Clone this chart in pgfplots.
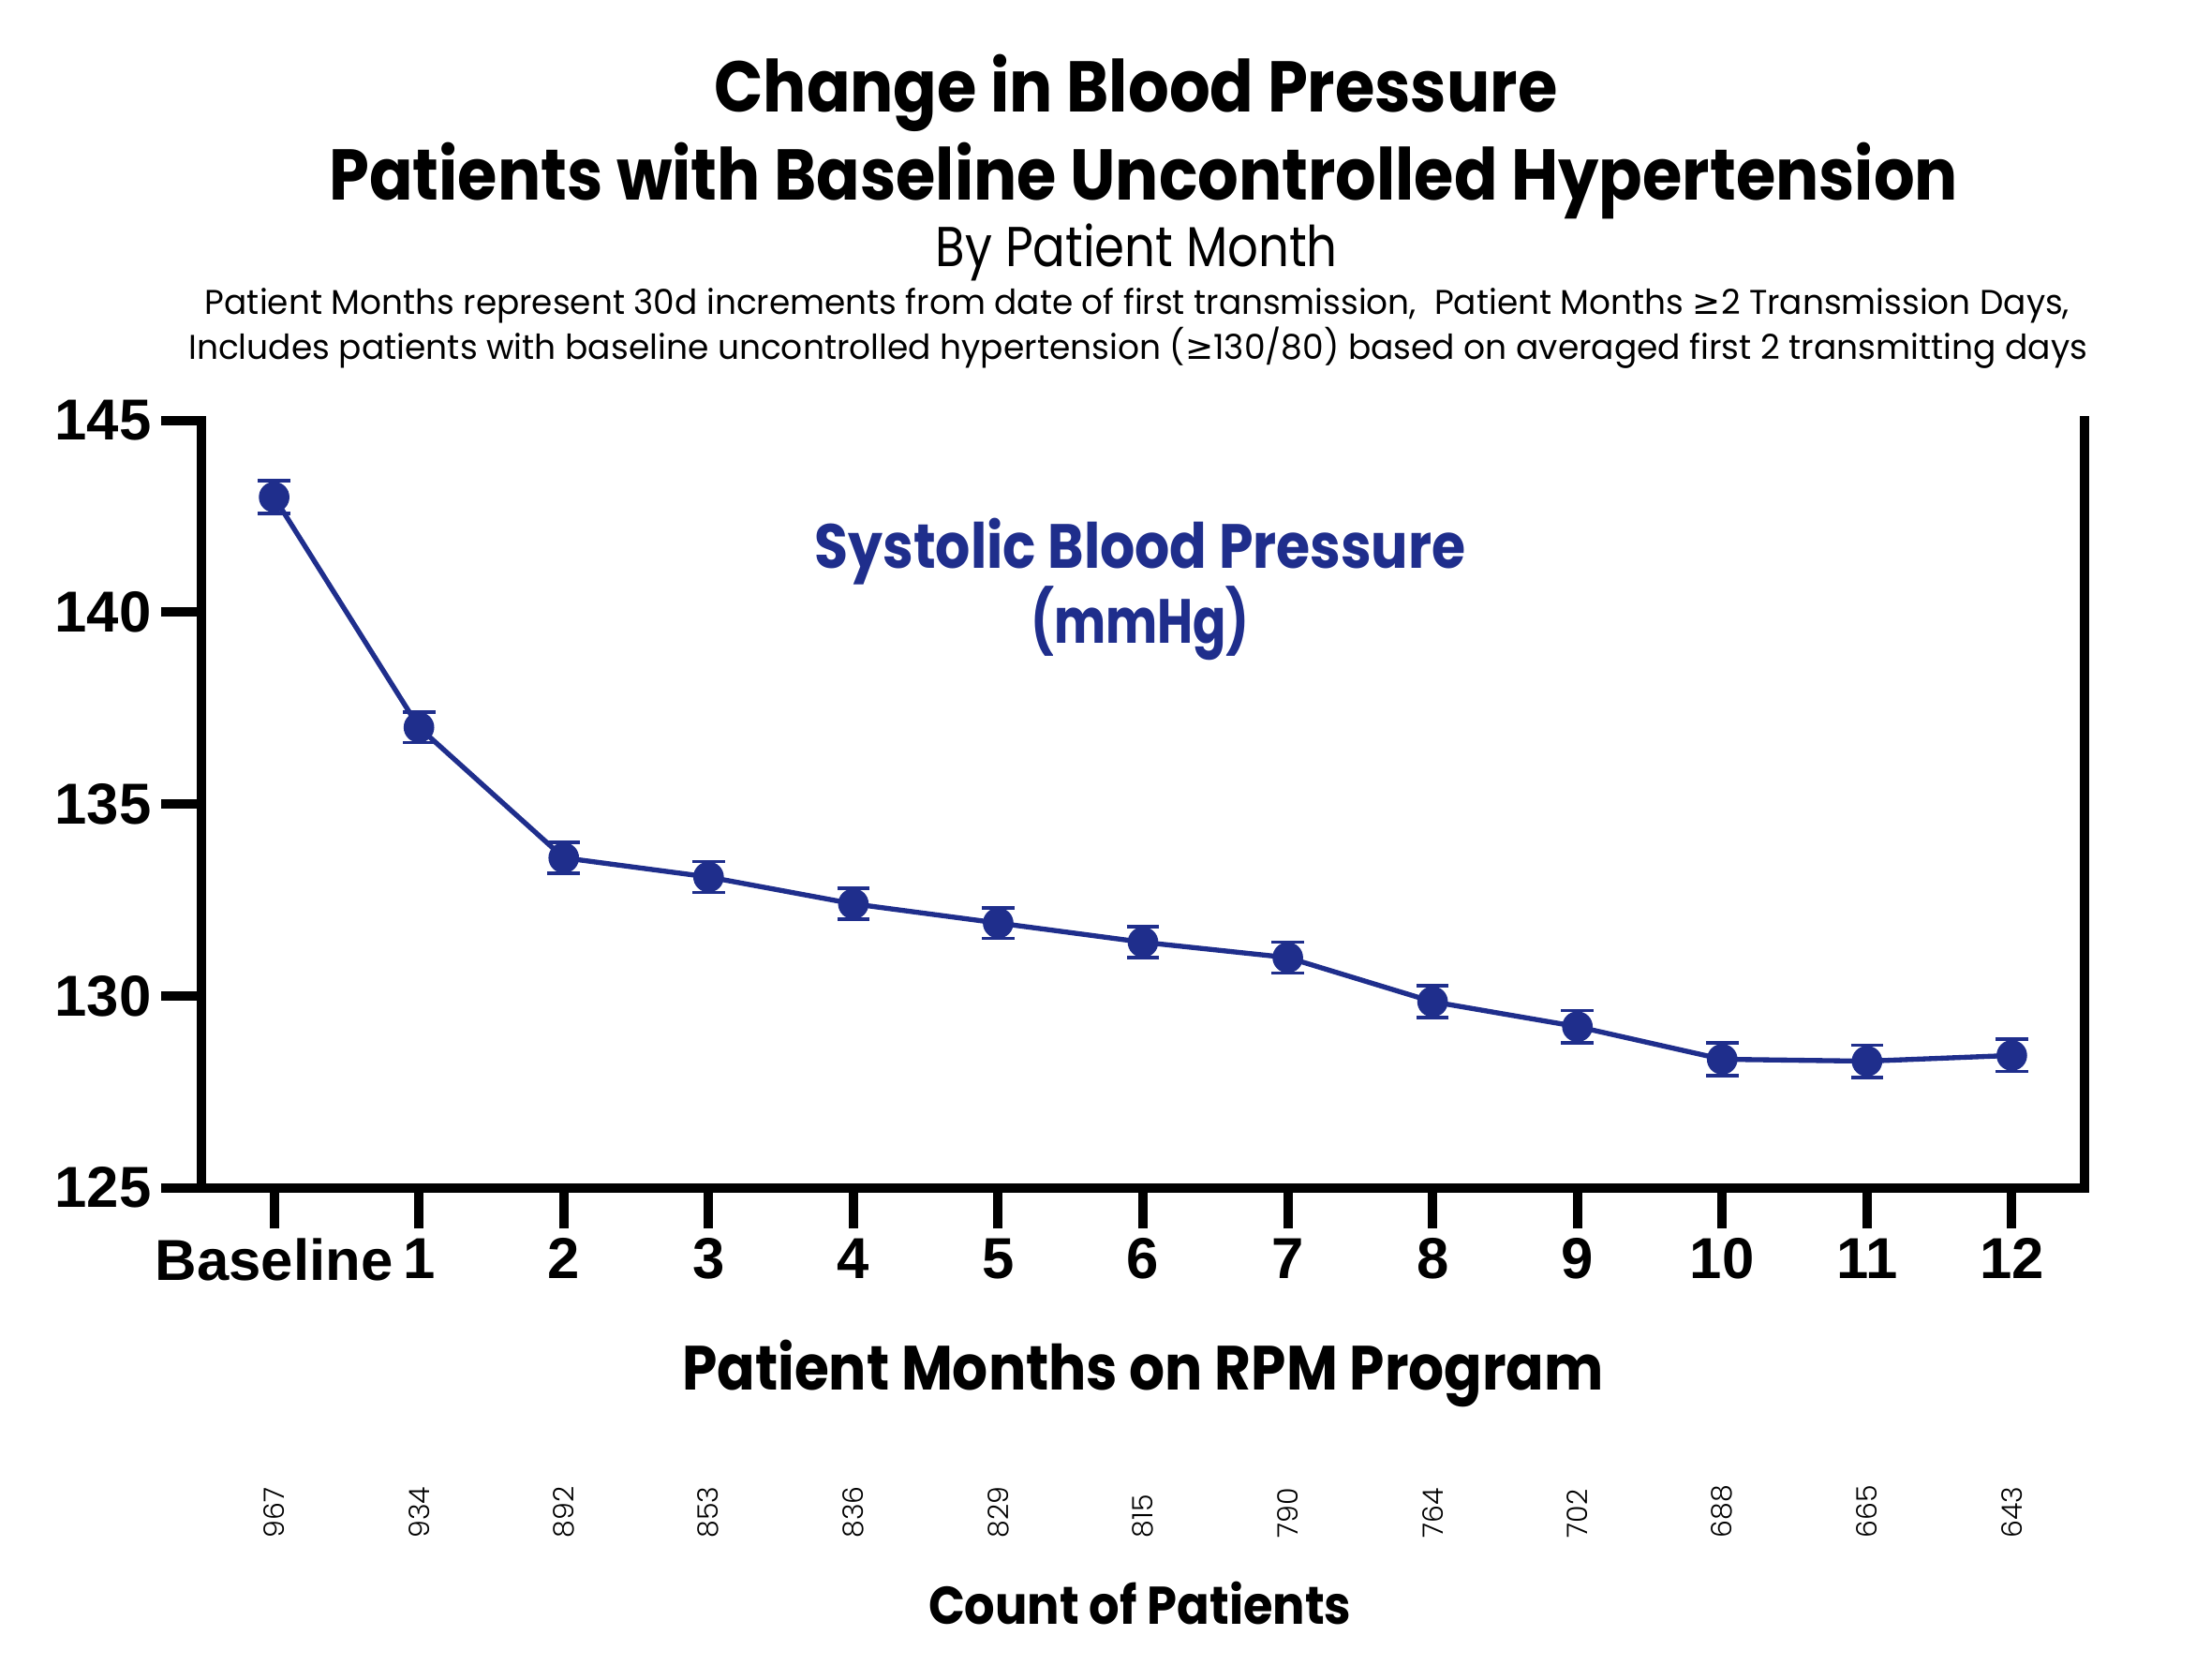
\documentclass[border=0pt]{standalone}
\usepackage{fontspec}
\usepackage{graphicx}
\usepackage{pgfplots}
\pgfplotsset{compat=1.18}

\setmainfont{Poppins}
\newfontfamily\popbold{Poppins Bold}
\newfontfamily\poplight{Poppins Light}
\newfontfamily\popreg{Poppins}
\newfontfamily\symfont{DejaVu Sans}
\newfontfamily\arialbold{Liberation Sans Bold}
\definecolor{bpnavy}{RGB}{31,46,140}

% mean systolic pressure by patient month, with error half-widths
\pgfplotstableread{
month  sbp     err
0      143.00  0.43
1      137.00  0.40
2      133.60  0.40
3      133.10  0.40
4      132.40  0.40
5      131.90  0.40
6      131.40  0.40
7      131.00  0.40
8      129.85  0.42
9      129.20  0.42
10     128.35  0.42
11     128.30  0.42
12     128.45  0.42
}\sbpdata

\begin{document}
\begin{tikzpicture}
\useasboundingbox (0,0) rectangle (703.2pt,-537.7pt);

% headings
\node[anchor=base, inner sep=0] at (363.7pt,-35.9pt)
  {\resizebox{270pt}{\height}{\popbold\fontsize{23}{23}\selectfont Change in Blood Pressure}};
\node[anchor=base, inner sep=0] at (366.2pt,-64.0pt)
  {\resizebox{521.6pt}{\height}{\popbold\fontsize{23}{23}\selectfont Patients with Baseline Uncontrolled Hypertension}};
\node[anchor=base, inner sep=0] at (364pt,-85.2pt)
  {\resizebox{128.7pt}{\height}{\popreg\fontsize{18}{18}\selectfont By Patient Month}};
\node[anchor=base, inner sep=0] at (364.2pt,-100.5pt)
  {\resizebox{597pt}{\height}{\popreg\fontsize{11}{11}\selectfont Patient Months represent 30d increments from date of first transmission,\ \ Patient Months {\symfont ≥}2 Transmission Days,}};
\node[anchor=base, inner sep=0] at (364.4pt,-115pt)
  {\resizebox{608pt}{\height}{\popreg\fontsize{11}{11}\selectfont Includes patients with baseline uncontrolled hypertension ({\symfont ≥}130/80) based on averaged first 2 transmitting days}};

\begin{axis}[
  scale only axis,
  width=602.8pt, height=245.7pt,
  at={(64.6pt,-380.3pt)}, anchor=south west,
  xmin=-0.5, xmax=12.5, ymin=125, ymax=145,
  axis x line*=bottom, axis y line*=left,
  axis line style={line width=3pt, line cap=rect, black},
  xtick={0,...,12},
  xticklabels={Baseline,1,2,3,4,5,6,7,8,9,10,11,12},
  ytick={125,130,135,140,145},
  tick align=outside,
  major tick length=13pt,
  every tick/.style={black, line width=3pt},
  /pgf/number format/assume math mode=true,
  ticklabel style={font=\arialbold\fontsize{18.5}{18.5}\selectfont},
  xticklabel style={inner sep=3pt},
  yticklabel style={inner sep=3pt},
  clip=false,
]
\addplot[
  bpnavy, line width=1.6pt,
  mark=*, mark size=4.7pt, mark options={fill=bpnavy, draw=bpnavy, line width=0.4pt},
  error bars/.cd, y dir=both, y explicit,
  error bar style={line width=1.1pt, bpnavy},
  error mark options={rotate=90, mark size=5.2pt, line width=1.1pt, bpnavy},
] table[x=month, y=sbp, y error=err] {\sbpdata};

% right-hand frame line
\draw[line width=3pt, line cap=rect, black] (rel axis cs:1,0) -- (rel axis cs:1,1);

% series label
\node[anchor=base, inner sep=0, text=bpnavy] at (rel axis cs:0.4985,0.8071)
  {\resizebox{208.5pt}{\height}{\popbold\fontsize{20}{20}\selectfont Systolic Blood Pressure}};
\node[anchor=base, inner sep=0, text=bpnavy] at (rel axis cs:0.4985,0.7094)
  {\resizebox{70pt}{\height}{\popbold\fontsize{20}{20}\selectfont (mmHg)}};
\end{axis}

% axis title and patient counts
\node[anchor=base, inner sep=0] at (366pt,-445pt)
  {\resizebox{295pt}{\height}{\popbold\fontsize{20}{20}\selectfont Patient Months on RPM Program}};

\foreach \n [count=\i from 0] in {967,934,892,853,836,829,815,790,764,702,688,665,643}
  \node[rotate=90, anchor=west, inner sep=0] at ({64.6pt+(\i+0.5)*46.37pt},-492.6pt)
    {\poplight\fontsize{9}{9}\selectfont \n};

\node[anchor=base, inner sep=0] at (365pt,-520pt)
  {\resizebox{135.4pt}{\height}{\popbold\fontsize{17}{17}\selectfont Count of Patients}};
\end{tikzpicture}
\end{document}
